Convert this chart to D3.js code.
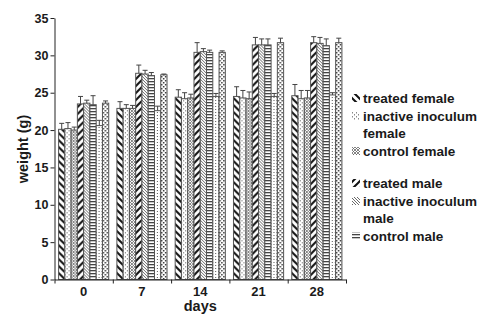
<!DOCTYPE html>
<html>
<head>
<meta charset="utf-8">
<script src="https://cdn.jsdelivr.net/npm/d3@7"></script>
<style>
body { margin: 0; background: #fff; }
svg text { font-family: "Liberation Sans", Arial, sans-serif; font-weight: bold; fill: #1a1a1a; }
</style>
</head>
<body>
<div class="canvas"></div>
<script>
// categories on x
const days = ['0', '7', '14', '21', '28'];
const yTicks = [0, 5, 10, 15, 20, 25, 30, 35];

// mean weights per series (g)
const treatedFemale  = [20.1, 22.9, 24.4, 24.5, 24.6];
const inactiveFemale = [20.2, 22.9, 24.2, 24.3, 24.2];
const controlFemale  = [20.0, 22.9, 24.3, 24.2, 24.3];
const treatedMale    = [23.5, 27.6, 30.4, 31.4, 31.7];
const inactiveMale   = [23.6, 27.5, 30.5, 31.4, 31.6];
const controlMale    = [23.4, 27.3, 30.4, 31.4, 31.3];
const extraFemale    = [20.6, 22.6, 24.5, 24.5, 24.7];
const extraMale      = [23.6, 27.4, 30.4, 31.7, 31.7];

// upper error bars
const treatedFemaleErr  = [0.8, 0.9, 1.0, 1.3, 1.5];
const inactiveFemaleErr = [0.8, 0.5, 0.8, 1.0, 1.1];
const controlFemaleErr  = [0.4, 0.4, 0.5, 0.9, 1.0];
const treatedMaleErr    = [1.0, 1.1, 1.3, 1.0, 0.8];
const inactiveMaleErr   = [0.4, 0.5, 0.4, 0.8, 0.8];
const controlMaleErr    = [1.2, 0.4, 0.3, 0.8, 0.9];
const extraFemaleErr    = [0.7, 0.6, 0.4, 0.4, 0.3];
const extraMaleErr      = [0.3, 0.1, 0.2, 0.6, 0.6];

const seriesKeys = ['tf', 'if', 'cf', 'tm', 'im', 'cm', 'xf', 'xm'];
const seriesValues = [treatedFemale, inactiveFemale, controlFemale, treatedMale, inactiveMale, controlMale, extraFemale, extraMale];
const seriesErrors = [treatedFemaleErr, inactiveFemaleErr, controlFemaleErr, treatedMaleErr, inactiveMaleErr, controlMaleErr, extraFemaleErr, extraMaleErr];

// legend (only six entries shown)
const legendKeys = ['tf', 'if', 'cf', 'tm', 'im', 'cm'];
const legendLabels = [['treated female'], ['inactive inoculum', 'female'], ['control female'],
                      ['treated male'], ['inactive inoculum', 'male'], ['control male']];

let svg, defs, x0, x1, y;

const dims = {width: 487, height: 321, left: 54.5, right: 346, top: 18, bottom: 279.5};

const initSvg = () => {
    svg = d3.select('.canvas')
        .append('svg')
        .attr('width', dims.width)
        .attr('height', dims.height);
    defs = svg.append('defs');
};

// hatch patterns
const addPattern = (id, w, h, draw) => {
    const p = defs.append('pattern')
        .attr('id', id)
        .attr('patternUnits', 'userSpaceOnUse')
        .attr('width', w)
        .attr('height', h);
    p.append('rect').attr('width', w).attr('height', h).attr('fill', '#fff');
    draw(p);
};

const initPatterns = () => {
    addPattern('tf', 7, 7, p => p.append('path')
        .attr('d', 'M-2,-2L9,9M-2,5L2,9M5,-2L9,2')
        .attr('stroke', '#111').attr('stroke-width', 2));
    addPattern('if', 4, 4, p => {
        p.append('rect').attr('x', 0).attr('y', 0).attr('width', 1).attr('height', 1.5).attr('fill', '#888');
        p.append('rect').attr('x', 2).attr('y', 2).attr('width', 1).attr('height', 1.5).attr('fill', '#888');
    });
    addPattern('cf', 3, 3, p => p.append('path')
        .attr('d', 'M0,0L3,3M3,0L0,3')
        .attr('stroke', '#666').attr('stroke-width', 0.8));
    addPattern('tm', 7, 7, p => p.append('path')
        .attr('d', 'M-2,9L9,-2M-2,2L2,-2M5,9L9,5')
        .attr('stroke', '#111').attr('stroke-width', 2));
    addPattern('im', 3, 3, p => p.append('path')
        .attr('d', 'M-1,-1L4,4M-1,2L1,4M2,-1L4,1')
        .attr('stroke', '#444').attr('stroke-width', 0.8));
    addPattern('cm', 3, 3, p => p.append('rect')
        .attr('x', 0).attr('y', 0).attr('width', 3).attr('height', 1.3).attr('fill', '#444'));
    addPattern('xf', 3, 3, p => p.append('rect')
        .attr('x', 1).attr('y', 1).attr('width', 1).attr('height', 1).attr('fill', '#555'));
    addPattern('xm', 4, 4, p => {
        p.append('rect').attr('x', 0).attr('y', 0).attr('width', 1.5).attr('height', 1.5).attr('fill', '#333');
        p.append('rect').attr('x', 2).attr('y', 2).attr('width', 1.5).attr('height', 1.5).attr('fill', '#333');
    });
};

const initScales = () => {
    x0 = d3.scaleBand()
        .domain(days)
        .range([dims.left, dims.right])
        .paddingInner(0.14)
        .paddingOuter(0.07);

    x1 = d3.scaleBand()
        .domain(seriesKeys)
        .range([0, x0.bandwidth()]);

    y = d3.scaleLinear()
        .domain([0, 35])
        .range([dims.bottom, dims.top]);
};

const drawBars = () => {
    // one row per day, one entry per series
    const rows = days.map((d, i) => ({
        day: d,
        bars: seriesKeys.map((k, s) => ({key: k, value: seriesValues[s][i], err: seriesErrors[s][i]}))
    }));

    const groups = svg.append('g').selectAll('g')
        .data(rows)
        .join('g')
        .attr('transform', d => `translate(${x0(d.day)},0)`);

    groups.selectAll('rect')
        .data(d => d.bars)
        .join('rect')
        .attr('x', d => x1(d.key))
        .attr('y', d => y(d.value))
        .attr('width', x1.bandwidth())
        .attr('height', d => y(0) - y(d.value))
        .attr('fill', d => `url(#${d.key})`)
        .attr('stroke', '#555')
        .attr('stroke-width', 1);

    // error bars (upper only)
    const eb = groups.selectAll('g.err')
        .data(d => d.bars)
        .join('g')
        .attr('class', 'err')
        .attr('stroke', '#444')
        .attr('stroke-width', 1);

    eb.append('line')
        .attr('x1', d => x1(d.key) + x1.bandwidth() / 2)
        .attr('x2', d => x1(d.key) + x1.bandwidth() / 2)
        .attr('y1', d => y(d.value))
        .attr('y2', d => y(d.value + d.err));

    eb.append('line')
        .attr('x1', d => x1(d.key) + x1.bandwidth() / 2 - 2.5)
        .attr('x2', d => x1(d.key) + x1.bandwidth() / 2 + 2.5)
        .attr('y1', d => y(d.value + d.err))
        .attr('y2', d => y(d.value + d.err));
};

const drawAxes = () => {
    const yAxis = d3.axisLeft(y)
        .tickValues(yTicks)
        .tickSize(4)
        .tickSizeOuter(0)
        .tickPadding(2);

    const yg = svg.append('g')
        .attr('transform', `translate(${dims.left},0)`)
        .call(yAxis);
    yg.selectAll('text').attr('font-size', 12.5);

    // boundary ticks between groups
    const bounds = d3.scaleLinear().domain([0, days.length]).range([dims.left, dims.right]);
    svg.append('g')
        .attr('transform', `translate(0,${dims.bottom})`)
        .call(d3.axisBottom(bounds).ticks(days.length).tickSize(4).tickSizeOuter(0).tickFormat(''));

    // day labels centred under groups
    const xg = svg.append('g')
        .attr('transform', `translate(0,${dims.bottom})`)
        .call(d3.axisBottom(x0).tickSize(0).tickPadding(7));
    xg.select('.domain').remove();
    xg.selectAll('text').attr('font-size', 13);

    svg.selectAll('.domain, .tick line').attr('stroke', '#222');

    svg.append('text')
        .attr('x', (dims.left + dims.right) / 2)
        .attr('y', 311)
        .attr('text-anchor', 'middle')
        .attr('font-size', 14.5)
        .text('days');

    svg.append('text')
        .attr('transform', 'translate(28,149) rotate(-90)')
        .attr('text-anchor', 'middle')
        .attr('font-size', 14.5)
        .text('weight (g)');
};

const drawLegend = () => {
    const legend = svg.append('g').attr('transform', 'translate(352,0)');
    let ty = 98;
    legendKeys.forEach((k, i) => {
        if (i === 3) ty += 14;
        legend.append('rect')
            .attr('x', 0)
            .attr('y', ty - 4)
            .attr('width', 8)
            .attr('height', 8)
            .attr('fill', `url(#${k})`);
        const t = legend.append('text')
            .attr('x', 11)
            .attr('y', ty + 5)
            .attr('font-size', 13.5);
        legendLabels[i].forEach((line, j) => {
            t.append('tspan').attr('x', 11).attr('dy', j === 0 ? 0 : 17).text(line);
        });
        ty += 18 + (legendLabels[i].length - 1) * 17;
    });
};

initSvg();
initPatterns();
initScales();
drawBars();
drawAxes();
drawLegend();
</script>
</body>
</html>
